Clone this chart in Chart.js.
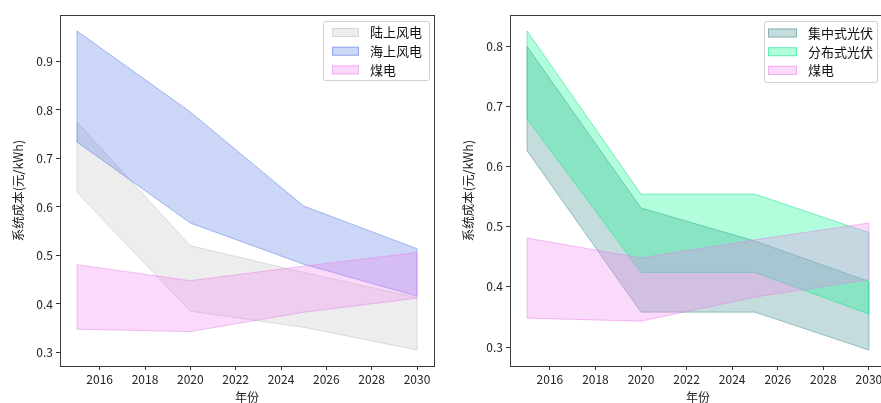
<!DOCTYPE html>
<html>
<head>
<meta charset="utf-8">
<script src="https://cdn.jsdelivr.net/npm/chart.js@4.4.1/dist/chart.umd.min.js"></script>
<style>
  html, body { margin: 0; padding: 0; background: #fff; overflow: hidden; width: 881px; height: 403px; }
  #wrapL { position: absolute; left: 0; top: 0; width: 450px; height: 403px; }
  #wrapR { position: absolute; left: 450px; top: 0; width: 452px; height: 403px; }
</style>
</head>
<body>
<div id="wrapL"><canvas id="chartL" width="450" height="403"></canvas></div>
<div id="wrapR"><canvas id="chartR" width="452" height="403"></canvas></div>
<script>
// data (元/kWh)
const years = [2015, 2020, 2025, 2030];
const onshoreLow = [0.63, 0.385, 0.352, 0.305];
const onshoreHigh = [0.775, 0.52, 0.465, 0.413];
const offshoreLow = [0.734, 0.567, 0.482, 0.416];
const offshoreHigh = [0.963, 0.796, 0.602, 0.514];
const coalLow = [0.348, 0.343, 0.383, 0.412];
const coalHigh = [0.481, 0.448, 0.478, 0.506];
const centralLow = [0.626, 0.358, 0.358, 0.295];
const centralHigh = [0.799, 0.531, 0.476, 0.409];
const distLow = [0.679, 0.424, 0.424, 0.355];
const distHigh = [0.825, 0.554, 0.554, 0.49];

const xTicks = [2016, 2018, 2020, 2022, 2024, 2026, 2028, 2030];
const yTicksLeft = [0.3, 0.4, 0.5, 0.6, 0.7, 0.8, 0.9];
const yTicksRight = [0.3, 0.4, 0.5, 0.6, 0.7, 0.8];
const leftLabels = ['陆上风电', '海上风电', '煤电'];
const rightLabels = ['集中式光伏', '分布式光伏', '煤电'];

const FONT = "'Noto Sans CJK SC', 'DejaVu Sans', sans-serif";
// [fill, edge]
const colors = {
  gray: ['rgba(211,211,211,0.42)', 'rgba(200,200,200,0.6)'],
  blue: ['rgba(65,105,225,0.27)', 'rgba(65,105,225,0.42)'],
  pink: ['rgba(238,130,238,0.3)', 'rgba(230,120,230,0.45)'],
  cadet: ['rgba(95,158,160,0.36)', 'rgba(80,145,150,0.55)'],
  green: ['rgba(0,250,140,0.3)', 'rgba(0,220,130,0.45)']
};

function pts(vals) {
  return vals.map((v, i) => ({ x: years[i], y: v }));
}

// one band = lower line + upper line filled down to it
function band(label, low, high, color, order) {
  return [
    { label: label + '_low', data: pts(low), borderColor: color[1], backgroundColor: color[0],
      borderWidth: 1, pointRadius: 0, fill: false, order: order },
    { label: label, data: pts(high), borderColor: color[1], backgroundColor: color[0],
      borderWidth: 1, pointRadius: 0, fill: '-1', order: order }
  ];
}

function padRange(arrs) {
  const all = arrs.flat();
  const lo = Math.min(...all), hi = Math.max(...all);
  const m = (hi - lo) * 0.05;
  return [lo - m, hi + m];
}

// closes each band at both ends, like a polygon outline
const bandEnds = {
  id: 'bandEnds',
  afterDatasetDraw(chart, args) {
    const ds = chart.data.datasets[args.index];
    if (ds.fill !== '-1') return;
    const lowDs = chart.data.datasets[args.index - 1];
    const xs = chart.scales.x, ys = chart.scales.y;
    const ctx = chart.ctx;
    ctx.save();
    ctx.strokeStyle = ds.borderColor;
    ctx.lineWidth = 1;
    [0, ds.data.length - 1].forEach(i => {
      const px = xs.getPixelForValue(ds.data[i].x);
      ctx.beginPath();
      ctx.moveTo(px, ys.getPixelForValue(lowDs.data[i].y));
      ctx.lineTo(px, ys.getPixelForValue(ds.data[i].y));
      ctx.stroke();
    });
    ctx.restore();
  }
};

// full frame around the plot area
const frame = {
  id: 'frame',
  afterDraw(chart) {
    const a = chart.chartArea, ctx = chart.ctx;
    ctx.save();
    ctx.strokeStyle = '#3a3a3a';
    ctx.lineWidth = 1;
    ctx.strokeRect(Math.round(a.left) + 0.5, Math.round(a.top) + 0.5,
      Math.round(a.right - a.left), Math.round(a.bottom - a.top));
    ctx.restore();
  }
};

// matplotlib-style legend inside the axes, upper right
const boxLegend = {
  id: 'boxLegend',
  afterDraw(chart, args, opts) {
    const ctx = chart.ctx;
    const items = chart.data.datasets.filter(d => d.fill === '-1');
    ctx.save();
    ctx.fillStyle = 'rgba(255,255,255,0.85)';
    ctx.strokeStyle = '#d0d0d0';
    ctx.lineWidth = 1;
    ctx.beginPath();
    ctx.roundRect(opts.x + 0.5, opts.y + 0.5, opts.w, opts.h, 2);
    ctx.fill();
    ctx.stroke();
    ctx.font = '13px ' + FONT;
    ctx.textBaseline = 'middle';
    items.forEach((d, i) => {
      const cy = opts.y + opts.first + i * opts.step;
      ctx.fillStyle = d.backgroundColor;
      ctx.fillRect(opts.x + opts.sw0, cy - 4.5, opts.sw, 9);
      ctx.strokeStyle = d.borderColor;
      ctx.strokeRect(opts.x + opts.sw0 + 0.5, cy - 4.5 + 0.5, opts.sw - 1, 8);
      ctx.fillStyle = '#111';
      ctx.fillText(d.label, opts.x + opts.tx, cy);
    });
    ctx.restore();
  }
};

function makeOptions(yRange, yTicks, legendOpts) {
  return {
    responsive: false,
    animation: false,
    layout: { padding: { left: 0, top: 15, right: 16, bottom: 0 } },
    plugins: {
      legend: { display: false },
      tooltip: { enabled: false },
      boxLegend: legendOpts
    },
    scales: {
      x: {
        type: 'linear',
        min: 2014.25,
        max: 2030.75,
        afterFit: s => { s.height = 37; },
        afterBuildTicks: s => { s.ticks = xTicks.map(v => ({ value: v })); },
        grid: { drawOnChartArea: false, drawTicks: true, tickLength: 4, color: '#333' },
        border: { display: true, color: '#3a3a3a' },
        ticks: { color: '#222', font: { family: FONT, size: 12 }, padding: 2, maxRotation: 0,
          callback: v => String(v) },
        title: { display: true, text: '年份', color: '#222',
          font: { family: FONT, size: 12, lineHeight: 1 }, padding: { top: 0, bottom: 0 } }
      },
      y: {
        min: yRange[0],
        max: yRange[1],
        afterFit: s => { s.width = 60; },
        afterBuildTicks: s => { s.ticks = yTicks.map(v => ({ value: v })); },
        grid: { drawOnChartArea: false, drawTicks: true, tickLength: 4, color: '#333' },
        border: { display: true, color: '#3a3a3a' },
        ticks: { color: '#222', font: { family: FONT, size: 12 }, padding: 3,
          callback: v => v.toFixed(1) },
        title: { display: true, text: '系统成本(元/kWh)', color: '#222',
          font: { family: FONT, size: 12.5, lineHeight: 1.2 }, padding: { top: 11, bottom: 0 } }
      }
    }
  };
}

new Chart(document.getElementById('chartL'), {
  type: 'line',
  data: {
    datasets: [
      ...band(leftLabels[0], onshoreLow, onshoreHigh, colors.gray, 3),
      ...band(leftLabels[1], offshoreLow, offshoreHigh, colors.blue, 2),
      ...band(leftLabels[2], coalLow, coalHigh, colors.pink, 1)
    ]
  },
  options: makeOptions(padRange([onshoreLow, onshoreHigh, offshoreLow, offshoreHigh, coalLow, coalHigh]),
    yTicksLeft, { x: 323, y: 21, w: 106, h: 59, first: 11.5, step: 18.7, sw0: 9, sw: 27, tx: 47 }),
  plugins: [bandEnds, frame, boxLegend]
});

new Chart(document.getElementById('chartR'), {
  type: 'line',
  data: {
    datasets: [
      ...band(rightLabels[0], centralLow, centralHigh, colors.cadet, 3),
      ...band(rightLabels[1], distLow, distHigh, colors.green, 2),
      ...band(rightLabels[2], coalLow, coalHigh, colors.pink, 1)
    ]
  },
  options: makeOptions(padRange([centralLow, centralHigh, distLow, distHigh, coalLow, coalHigh]),
    yTicksRight, { x: 314, y: 21, w: 113, h: 61, first: 12, step: 18.7, sw0: 4, sw: 29, tx: 44 }),
  plugins: [bandEnds, frame, boxLegend]
});
</script>
</body>
</html>
